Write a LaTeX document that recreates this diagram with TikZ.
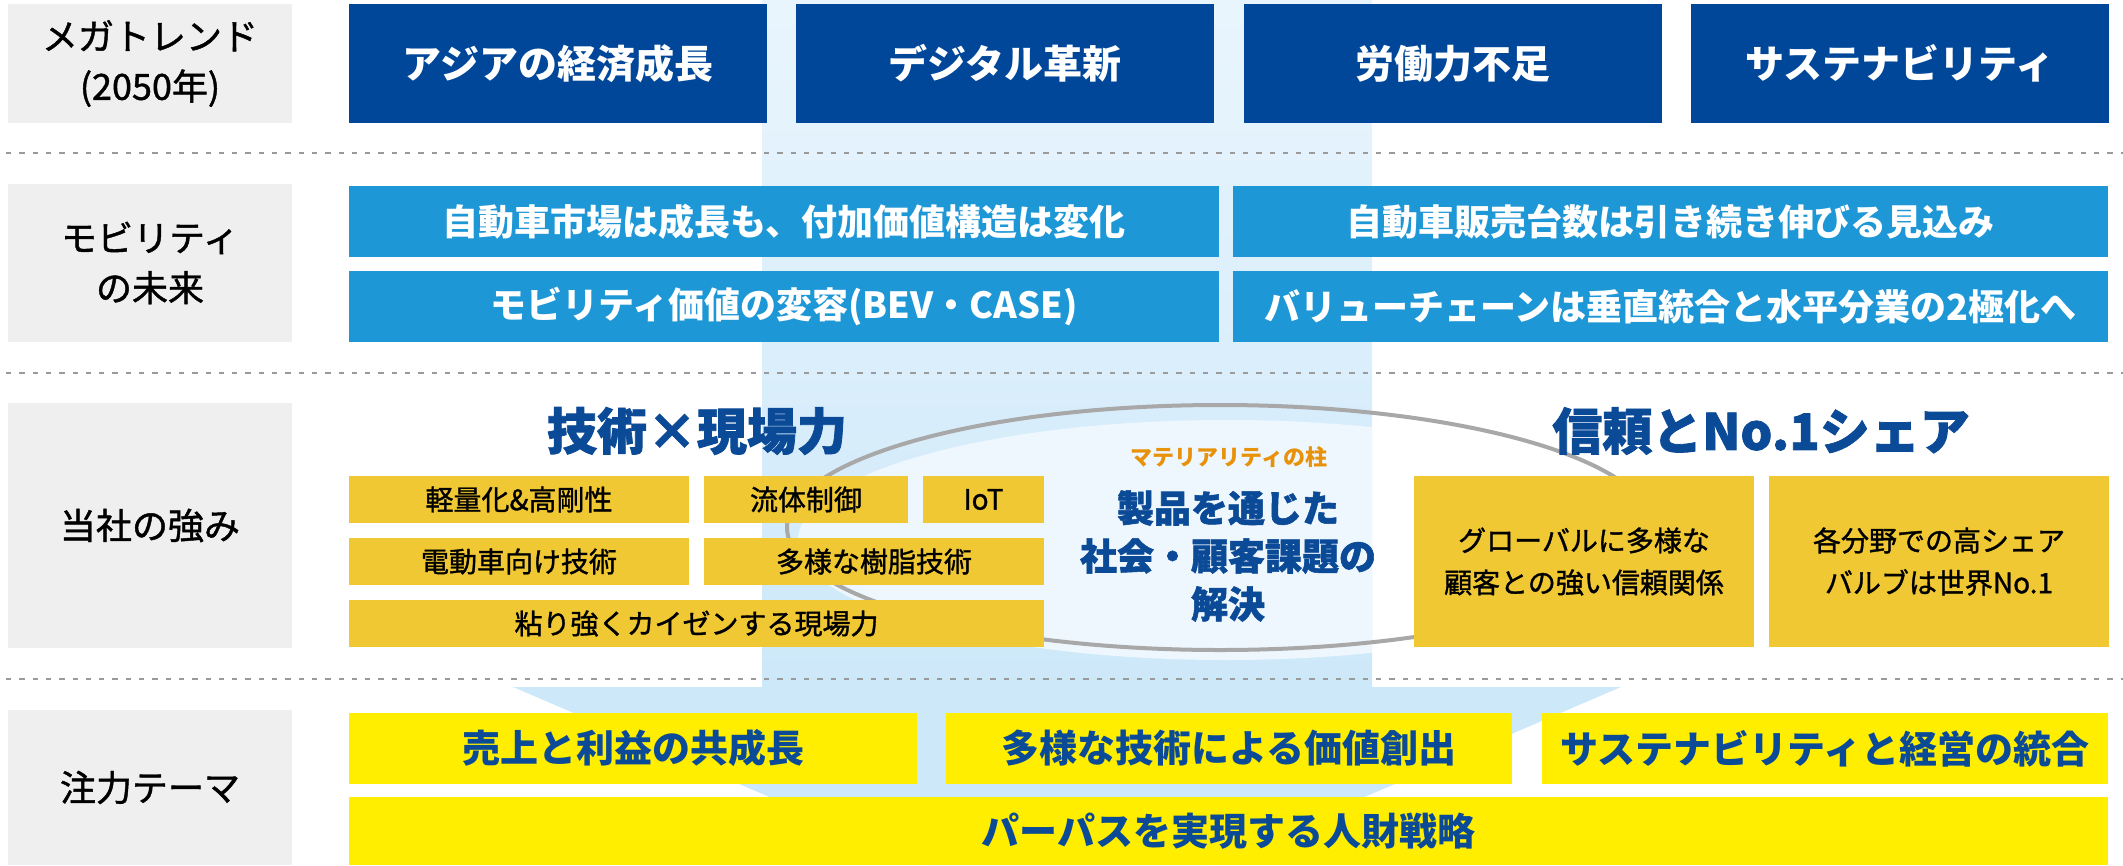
\documentclass[tikz,border=0pt]{standalone}
\usepackage{fontspec}
\setmainfont{Noto Sans CJK JP}
\newfontfamily\jpmed[FakeBold=1.2]{Noto Sans CJK JP}
\newfontfamily\jpheavy[FakeBold=1.5,BoldFeatures={FakeBold=1.5}]{Noto Sans CJK JP}
\definecolor{darkblue}{HTML}{00479A}
\definecolor{midblue}{HTML}{1E97D6}
\definecolor{gold}{HTML}{EFC833}
\definecolor{yel}{HTML}{FFEE00}
\definecolor{lblgray}{HTML}{EFEFEF}
\definecolor{txtblue}{HTML}{0B4A96}
\definecolor{orng}{HTML}{E8920C}
\definecolor{bandtop}{HTML}{E9F5FD}
\definecolor{bandbot}{HTML}{CDE8F9}
\definecolor{ellfill}{HTML}{EEF7FE}
\definecolor{ellline}{HTML}{A8A8A8}
\definecolor{dashgray}{HTML}{9A9A9A}
\newcommand\bx[7]{\node[#2,minimum width={(#5-#3)*1pt},minimum height={(#6-#4)*1pt}] (#1) at ({(#3+#5)/2},{(#4+#6)/2}) {#7};}
\tikzset{
  base/.style={inner sep=0pt,outer sep=0pt,draw=none,align=center},
  lbl/.style={base,fill=lblgray,text=black,font=\jpmed\fontsize{36}{50}\selectfont},
  dk/.style={base,fill=darkblue,text=white,font=\bfseries\fontsize{39}{47}\selectfont},
  md/.style={base,fill=midblue,text=white,font=\bfseries\fontsize{36}{44}\selectfont},
  gd/.style={base,fill=gold,text=black,font=\jpmed\fontsize{28}{42}\selectfont},
  yl/.style={base,fill=yel,text=txtblue,font=\bfseries\fontsize{38}{46}\selectfont},
  ttl/.style={base,text=txtblue,font=\jpheavy\bfseries\fontsize{50}{60}\selectfont},
  matl/.style={base,text=orng,font=\bfseries\fontsize{22}{26}\selectfont},
  matt/.style={base,text=txtblue,font=\jpheavy\bfseries\fontsize{37}{48}\selectfont},
  sepline/.style={draw=dashgray,line width=2pt,dash pattern=on 5.3pt off 8pt},
}
\begin{document}
\begin{tikzpicture}[x=1pt,y=-1pt]
\useasboundingbox (0,0) rectangle (2123,865);
% background band and arrow
\shade[top color=bandtop,bottom color=bandbot] (762,0) rectangle (1372,687);
\fill[bandbot] (513,687) -- (1621,687) -- (1206,865) -- (928,865) -- cycle;
% ellipse glow
\begin{scope}
\clip (762,0) rectangle (1372,865);
\fill[ellfill] (1226,540) ellipse [x radius=428, y radius=120];
\end{scope}
\draw[ellline,line width=4pt] (1220,527.5) ellipse [x radius=433, y radius=122.5];
% separators
\draw[sepline] (6,153) -- (2123,153);
\draw[sepline] (6,373) -- (2123,373);
\draw[sepline] (6,679) -- (2123,679);
% row labels
\bx{l1}{lbl}{8}{4}{292}{123}{メガトレンド\\(2050年)}
\bx{l2}{lbl}{8}{184}{292}{342}{モビリティ\\の未来}
\bx{l3}{lbl}{8}{403}{292}{648}{当社の強み}
\bx{l4}{lbl}{8}{710}{292}{865}{注力テーマ}
% megatrends
\bx{d1}{dk}{349}{4}{767}{123}{アジアの経済成長}
\bx{d2}{dk}{796}{4}{1214}{123}{デジタル革新}
\bx{d3}{dk}{1244}{4}{1662}{123}{労働力不足}
\bx{d4}{dk}{1691}{4}{2109}{123}{サステナビリティ}
% mobility
\bx{m1}{md}{349}{186}{1219}{257}{自動車市場は成長も、付加価値構造は変化}
\bx{m2}{md}{1233}{186}{2108}{257}{自動車販売台数は引き続き伸びる見込み}
\bx{m3}{md}{349}{271}{1219}{342}{モビリティ価値の変容(BEV・CASE)}
\bx{m4}{md}{1233}{271}{2108}{342}{バリューチェーンは垂直統合と水平分業の2極化へ}
% strengths
\node[ttl] (t1) at (697,431) {技術×現場力};
\node[ttl] (t2) at (1761,431) {信頼とNo.1シェア};
\bx{g1}{gd}{349}{476}{689}{523}{軽量化\&高剛性}
\bx{g2}{gd}{704}{476}{908}{523}{流体制御}
\bx{g3}{gd}{923}{476}{1044}{523}{IoT}
\bx{g4}{gd}{349}{538}{689}{585}{電動車向け技術}
\bx{g5}{gd}{704}{538}{1044}{585}{多様な樹脂技術}
\bx{g6}{gd}{349}{600}{1044}{647}{粘り強くカイゼンする現場力}
\bx{g7}{gd}{1414}{476}{1754}{647}{グローバルに多様な\\顧客との強い信頼関係}
\bx{g8}{gd}{1769}{476}{2109}{647}{各分野での高シェア\\バルブは世界No.1}
\node[matl] (mt) at (1229,457) {マテリアリティの柱};
\node[matt] (mb) at (1228,556) {製品を通じた\\社会・顧客課題の\\解決};
% focus themes
\bx{y1}{yl}{349}{713}{917}{784}{売上と利益の共成長}
\bx{y2}{yl}{946}{713}{1512}{784}{多様な技術による価値創出}
\bx{y3}{yl}{1542}{713}{2108}{784}{サステナビリティと経営の統合}
\bx{y4}{yl}{349}{797}{2108}{865}{パーパスを実現する人財戦略}
\end{tikzpicture}
\end{document}
